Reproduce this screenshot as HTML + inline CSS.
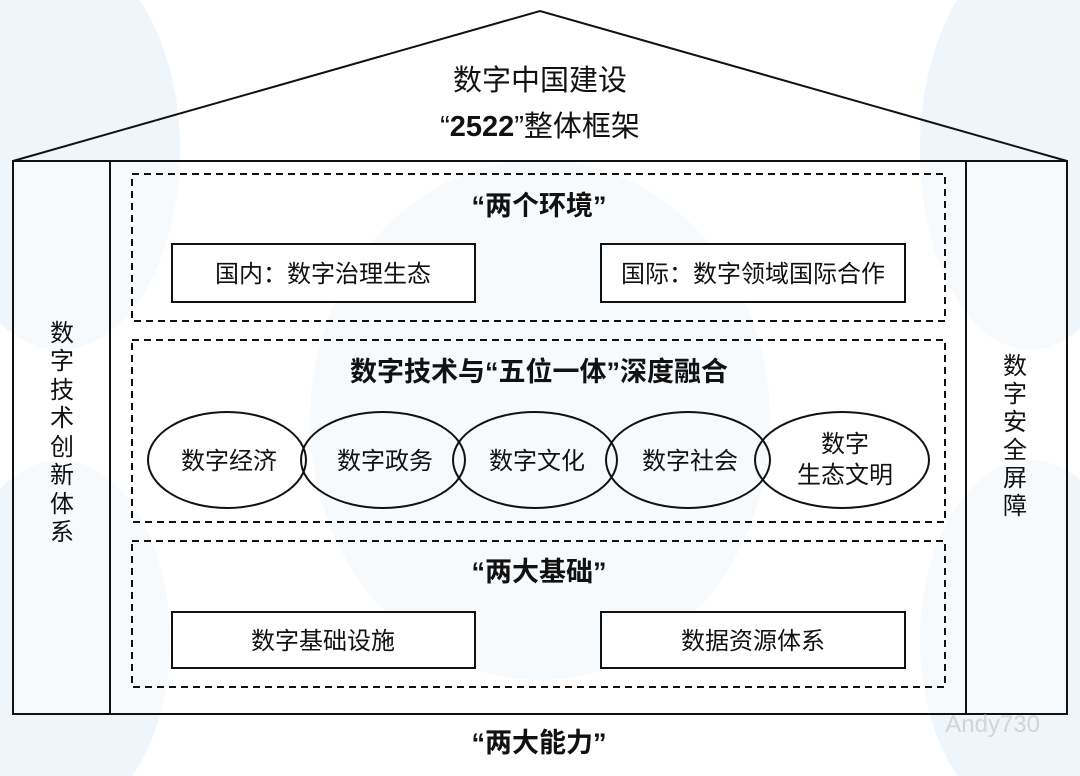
<!DOCTYPE html>
<html><head><meta charset="utf-8">
<style>
html,body{margin:0;padding:0;background:#fff;overflow:hidden;width:1080px;height:776px;}
svg{display:block;}
text{font-family:"Liberation Sans","Noto Sans CJK SC",sans-serif;fill:#111;}
</style></head>
<body>
<svg width="1080" height="776" viewBox="0 0 1080 776" xmlns="http://www.w3.org/2000/svg">
<rect width="1080" height="776" fill="#fff"/>
<g fill="#eef5fb">
<ellipse cx="540" cy="420" rx="230" ry="260"/>
<ellipse cx="60" cy="150" rx="120" ry="200"/>
<ellipse cx="1030" cy="150" rx="110" ry="200"/>
<ellipse cx="60" cy="640" rx="110" ry="180"/>
<ellipse cx="1030" cy="640" rx="110" ry="180"/>
</g>
<rect x="13" y="161" width="1054" height="553" fill="#fff" fill-opacity="0.5"/>
<polyline points="13,161 540,11 1067,161" fill="none" stroke="#111" stroke-width="2"/>
<rect x="13" y="161" width="1054" height="553" fill="none" stroke="#111" stroke-width="2"/>
<line x1="110" y1="161" x2="110" y2="714" stroke="#111" stroke-width="2"/>
<line x1="966" y1="161" x2="966" y2="714" stroke="#111" stroke-width="2"/>
<g fill="none" stroke="#111" stroke-width="2" stroke-dasharray="7,5">
<rect x="132" y="174" width="813" height="147"/>
<rect x="132" y="340" width="813" height="182"/>
<rect x="132" y="541" width="813" height="146"/>
</g>
<g fill="#fff" stroke="#111" stroke-width="2">
<rect x="172" y="244" width="303" height="58"/>
<rect x="601" y="244" width="304" height="58"/>
<rect x="172" y="612" width="303" height="56"/>
<rect x="601" y="612" width="304" height="56"/>
</g>
<g fill="none" stroke="#111" stroke-width="2">
<ellipse cx="227" cy="460" rx="79" ry="48"/>
<ellipse cx="383" cy="460" rx="82" ry="48"/>
<ellipse cx="535" cy="460" rx="82" ry="48"/>
<ellipse cx="688" cy="460" rx="82" ry="48"/>
<ellipse cx="842" cy="460" rx="87" ry="48"/>
</g>
<text x="540" y="90" font-size="29" text-anchor="middle">数字中国建设</text>
<text x="540" y="136" font-size="29" text-anchor="middle">“<tspan font-weight="bold">2522</tspan>”整体框架</text>
<g font-weight="bold" text-anchor="middle" font-size="27">
<text x="539" y="215">“两个环境”</text>
<text x="539" y="381">数字技术与“五位一体”深度融合</text>
<text x="539" y="581">“两大基础”</text>
<text x="539" y="752">“两大能力”</text>
</g>
<g font-size="24" text-anchor="middle">
<text x="323" y="282">国内：数字治理生态</text>
<text x="753" y="282">国际：数字领域国际合作</text>
<text x="323" y="649">数字基础设施</text>
<text x="753" y="649">数据资源体系</text>
<text x="229" y="469">数字经济</text>
<text x="385" y="469">数字政务</text>
<text x="537" y="469">数字文化</text>
<text x="690" y="469">数字社会</text>
<text x="845" y="452">数字</text>
<text x="845" y="483">生态文明</text>
</g>
<g font-size="24" text-anchor="middle">
<text x="62" y="341">数</text>
<text x="62" y="369">字</text>
<text x="62" y="398">技</text>
<text x="62" y="426">术</text>
<text x="62" y="455">创</text>
<text x="62" y="483">新</text>
<text x="62" y="512">体</text>
<text x="62" y="540">系</text>
</g>
<g font-size="24" text-anchor="middle">
<text x="1015" y="374">数</text>
<text x="1015" y="402">字</text>
<text x="1015" y="430">安</text>
<text x="1015" y="458">全</text>
<text x="1015" y="486">屏</text>
<text x="1015" y="514">障</text>
</g>
<text x="1040" y="732" font-size="24" text-anchor="end" style="fill:#d4d4d4">Andy730</text>
</svg>
</body></html>
